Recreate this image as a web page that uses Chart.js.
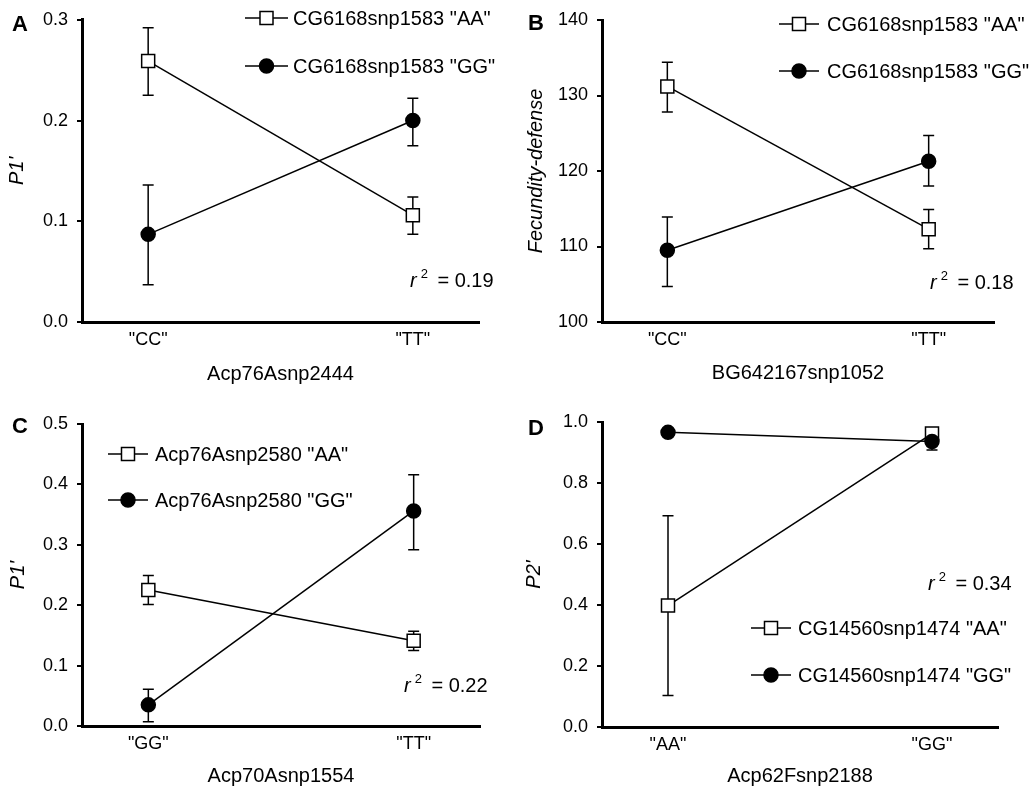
<!DOCTYPE html>
<html><head><meta charset="utf-8">
<script src="https://cdn.jsdelivr.net/npm/chart.js@4.4.0/dist/chart.umd.min.js"></script>
<style>
html,body{margin:0;padding:0;background:#fff;}
#wrap{position:relative;width:1030px;height:790px;background:#fff;}
canvas{position:absolute;}
</style></head><body>
<div id="wrap">
<canvas id="cA" width="515" height="395" style="left:0;top:0"></canvas>
<canvas id="cB" width="515" height="395" style="left:515px;top:0"></canvas>
<canvas id="cC" width="515" height="395" style="left:0;top:395px"></canvas>
<canvas id="cD" width="515" height="395" style="left:515px;top:395px"></canvas>
</div>
<script>
// ---------- DATA ----------
// Panel A
const catA = ['"CC"', '"TT"'];
const legA = ['CG6168snp1583 "AA"', 'CG6168snp1583 "GG"'];
const aaA = [0.259, 0.106], aaA_lo = [0.225, 0.087], aaA_hi = [0.292, 0.124];
const ggA = [0.087, 0.200], ggA_lo = [0.037, 0.175], ggA_hi = [0.136, 0.222];
const yTicksA = [0, 0.1, 0.2, 0.3];
const r2A = '0.19';
// Panel B
const catB = ['"CC"', '"TT"'];
const legB = ['CG6168snp1583 "AA"', 'CG6168snp1583 "GG"'];
const aaB = [131.2, 112.3], aaB_lo = [127.8, 109.7], aaB_hi = [134.4, 114.9];
const ggB = [109.5, 121.3], ggB_lo = [104.7, 118.0], ggB_hi = [113.9, 124.7];
const yTicksB = [100, 110, 120, 130, 140];
const r2B = '0.18';
// Panel C
const catC = ['"GG"', '"TT"'];
const legC = ['Acp76Asnp2580 "AA"', 'Acp76Asnp2580 "GG"'];
const aaC = [0.225, 0.141], aaC_lo = [0.201, 0.125], aaC_hi = [0.249, 0.157];
const ggC = [0.035, 0.356], ggC_lo = [0.007, 0.292], ggC_hi = [0.061, 0.416];
const yTicksC = [0, 0.1, 0.2, 0.3, 0.4, 0.5];
const r2C = '0.22';
// Panel D
const catD = ['"AA"', '"GG"'];
const legD = ['CG14560snp1474 "AA"', 'CG14560snp1474 "GG"'];
const aaD = [0.398, 0.962], aaD_lo = [0.103, 0.950], aaD_hi = [0.693, 0.975];
const ggD = [0.966, 0.936], ggD_lo = [0.960, 0.908], ggD_hi = [0.972, 0.962];
const yTicksD = [0, 0.2, 0.4, 0.6, 0.8, 1.0];
const r2D = '0.34';

// ---------- RENDERING ----------
const FF = '"Liberation Sans", Arial, Helvetica, sans-serif';
Chart.defaults.font.family = FF;
Chart.defaults.color = '#000';

const deco = {
  id: 'panelDeco',
  beforeDatasetsDraw(chart, args, opts) {
    const ctx = chart.ctx, xs = chart.scales.x, ys = chart.scales.y;
    ctx.save();
    ctx.strokeStyle = '#000';
    ctx.lineWidth = 1.5;
    chart.data.datasets.forEach(ds => {
      ds.data.forEach((p, i) => {
        const x = xs.getPixelForValue(p.x);
        const yl = ys.getPixelForValue(ds.errLo[i]);
        const yh = ys.getPixelForValue(ds.errHi[i]);
        const c = opts.cap;
        ctx.beginPath();
        ctx.moveTo(x, yl); ctx.lineTo(x, yh);
        ctx.moveTo(x - c, yl); ctx.lineTo(x + c, yl);
        ctx.moveTo(x - c, yh); ctx.lineTo(x + c, yh);
        ctx.stroke();
      });
    });
    ctx.restore();
  },
  afterDraw(chart, args, opts) {
    const ctx = chart.ctx;
    ctx.save();
    ctx.fillStyle = '#000';
    // panel letter
    ctx.font = 'bold 22px ' + FF;
    ctx.textBaseline = 'alphabetic';
    ctx.textAlign = 'left';
    ctx.fillText(opts.letter.text, opts.letter.x, opts.letter.y);
    // legend
    const L = opts.legend;
    chart.data.datasets.forEach((ds, i) => {
      const y = L.y + i * L.dy;
      ctx.strokeStyle = '#000';
      ctx.lineWidth = 1.5;
      ctx.beginPath();
      ctx.moveTo(L.x, y); ctx.lineTo(L.x + L.w, y);
      ctx.stroke();
      const mx = L.x + L.w / 2;
      ctx.beginPath();
      if (ds.pointStyle === 'rect') {
        const s = ds.pointRadius * Math.SQRT1_2;
        ctx.rect(mx - s, y - s, 2 * s, 2 * s);
      } else {
        ctx.arc(mx, y, ds.pointRadius, 0, Math.PI * 2);
      }
      ctx.fillStyle = ds.pointBackgroundColor;
      ctx.fill();
      ctx.lineWidth = ds.pointBorderWidth;
      ctx.stroke();
      ctx.fillStyle = '#000';
      ctx.font = L.size + 'px ' + FF;
      ctx.textBaseline = 'middle';
      ctx.fillText(ds.label, L.x + L.w + L.gap, y + 1);
    });
    // r^2 annotation
    const R = opts.r2;
    ctx.textBaseline = 'alphabetic';
    ctx.font = 'italic 20px ' + FF;
    ctx.fillText('r', R.x, R.y);
    let x = R.x + ctx.measureText('r').width + 4;
    ctx.font = '13px ' + FF;
    ctx.fillText('2', x, R.y - 9);
    x += ctx.measureText('2').width + 4;
    ctx.font = '20px ' + FF;
    ctx.fillText(' = ' + R.value, x, R.y);
    ctx.restore();
  }
};

function build(id, o) {
  const mk = (vals, lo, hi, label, isSq) => ({
    label: label,
    data: vals.map((v, i) => ({x: i, y: v})),
    errLo: lo, errHi: hi,
    pointStyle: isSq ? 'rect' : 'circle',
    pointRadius: isSq ? 9.2 : 7,
    pointBackgroundColor: isSq ? '#fff' : '#000',
    pointBorderColor: '#000',
    pointBorderWidth: 1.5,
    borderColor: '#000',
    borderWidth: 1.5,
    tension: 0,
    clip: false,
    order: isSq ? 1 : 0
  });
  const dec = o.dec;
  new Chart(document.getElementById(id), {
    type: 'line',
    data: {
      datasets: [
        mk(o.aa, o.aaLo, o.aaHi, o.leg[0], true),
        mk(o.gg, o.ggLo, o.ggHi, o.leg[1], false)
      ]
    },
    options: {
      responsive: false,
      animation: false,
      events: [],
      layout: {padding: {left: 0, top: o.area.top, right: 515 - o.area.right, bottom: 0}},
      plugins: {
        legend: {display: false},
        tooltip: {enabled: false},
        panelDeco: {cap: 5.5, letter: o.letter, legend: o.legend, r2: o.r2}
      },
      scales: {
        x: {
          type: 'linear', min: -0.25, max: 1.25,
          afterFit: s => { s.height = 395 - o.area.bottom; },
          afterBuildTicks: s => { s.ticks = o.cats.map((c, i) => ({value: i})); },
          ticks: {callback: v => o.cats[v], font: {size: 18}, color: '#000', padding: 7, maxRotation: 0, autoSkip: false},
          grid: {display: false, drawTicks: false},
          border: {display: true, width: 3, color: '#000'},
          title: {display: true, text: o.xTitle, font: {size: 20}, color: '#000', padding: {top: 0, bottom: o.xTitlePad}}
        },
        y: {
          min: o.yTicks[0], max: o.yTicks[o.yTicks.length - 1],
          afterFit: s => { s.width = o.area.left; },
          afterBuildTicks: s => { s.ticks = o.yTicks.map(v => ({value: v})); },
          ticks: {callback: v => Number(v).toFixed(dec), font: {size: 18}, color: '#000', padding: 9, autoSkip: false},
          grid: {display: true, drawOnChartArea: false, drawTicks: true, tickLength: 5, lineWidth: 2, color: '#000'},
          border: {display: true, width: 3, color: '#000'},
          title: {display: true, text: o.yTitle, font: {size: 20, style: 'italic'}, color: '#000', padding: {top: o.yTitlePad, bottom: 0}}
        }
      }
    },
    plugins: [deco]
  });
}

build('cA', {
  cats: catA, leg: legA, aa: aaA, aaLo: aaA_lo, aaHi: aaA_hi, gg: ggA, ggLo: ggA_lo, ggHi: ggA_hi,
  yTicks: yTicksA, dec: 1, xTitle: 'Acp76Asnp2444', yTitle: "P1'",
  area: {left: 82, top: 17, right: 479, bottom: 322}, xTitlePad: 9, yTitlePad: 5,
  letter: {text: 'A', x: 12, y: 31},
  legend: {x: 245, y: 18, dy: 48, w: 43, gap: 5, size: 20},
  r2: {x: 410, y: 287, value: r2A}
});
build('cB', {
  cats: catB, leg: legB, aa: aaB, aaLo: aaB_lo, aaHi: aaB_hi, gg: ggB, ggLo: ggB_lo, ggHi: ggB_hi,
  yTicks: yTicksB, dec: 0, xTitle: 'BG642167snp1052', yTitle: 'Fecundity-defense',
  area: {left: 87, top: 20, right: 479, bottom: 322}, xTitlePad: 10, yTitlePad: 9,
  letter: {text: 'B', x: 13, y: 30},
  legend: {x: 264, y: 24, dy: 47, w: 40, gap: 8, size: 20},
  r2: {x: 415, y: 289, value: r2B}
});
build('cC', {
  cats: catC, leg: legC, aa: aaC, aaLo: aaC_lo, aaHi: aaC_hi, gg: ggC, ggLo: ggC_lo, ggHi: ggC_hi,
  yTicks: yTicksC, dec: 1, xTitle: 'Acp70Asnp1554', yTitle: "P1'",
  area: {left: 82, top: 29, right: 480, bottom: 331}, xTitlePad: 2, yTitlePad: 6,
  letter: {text: 'C', x: 12, y: 38},
  legend: {x: 108, y: 59, dy: 46, w: 40, gap: 7, size: 20},
  r2: {x: 404, y: 297, value: r2C}
});
build('cD', {
  cats: catD, leg: legD, aa: aaD, aaLo: aaD_lo, aaHi: aaD_hi, gg: ggD, ggLo: ggD_lo, ggHi: ggD_hi,
  yTicks: yTicksD, dec: 1, xTitle: 'Acp62Fsnp2188', yTitle: "P2'",
  area: {left: 87, top: 27, right: 483, bottom: 332}, xTitlePad: 2, yTitlePad: 7,
  letter: {text: 'D', x: 13, y: 40},
  legend: {x: 236, y: 233, dy: 47, w: 40, gap: 7, size: 20},
  r2: {x: 413, y: 195, value: r2D}
});
</script>
</body></html>
